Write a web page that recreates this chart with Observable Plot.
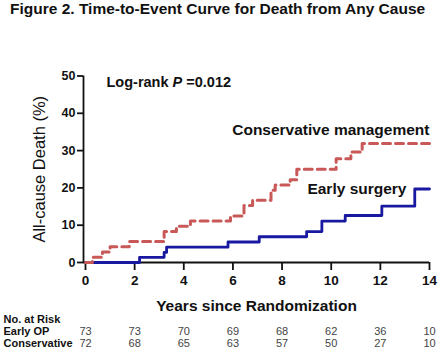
<!DOCTYPE html>
<html>
<head>
<meta charset="utf-8">
<script src="https://cdn.jsdelivr.net/npm/d3@7"></script>
<script src="https://cdn.jsdelivr.net/npm/@observablehq/plot@0.6"></script>
<style>
  html, body { margin: 0; padding: 0; background: white; }
  #title { height: 24px; line-height: 22px; padding-left: 10px; font: bold 15.5px "Liberation Sans", Arial, sans-serif; color: #111; white-space: nowrap; }
</style>
</head>
<body>
<div id="title">Figure 2. Time-to-Event Curve for Death from Any Cause</div>
<div id="chart"></div>
<script>
const FONT = '"Liberation Sans", Arial, sans-serif';

// Conservative management (red dashed) step curve
const consTime  = [0, 0.28, 0.69, 1.0, 1.78, 3.2, 3.7, 4.27, 5.9, 6.45, 6.8, 7.55, 7.72, 8.33, 8.6, 10.2, 10.8, 11.26, 14];
const consValue = [0, 1.4, 2.8, 4.2, 5.6, 8.3, 9.7, 11.1, 12.5, 15.3, 16.7, 19.4, 20.8, 22.2, 25.0, 27.8, 29.6, 31.9, 31.9];

// Early surgery (blue solid) step curve
const earlyTime  = [0, 2.2, 3.2, 3.3, 5.8, 7.07, 9.0, 9.62, 10.57, 12.06, 13.4, 14];
const earlyValue = [0, 1.4, 2.7, 4.1, 5.5, 6.9, 8.3, 11.1, 12.6, 15.1, 19.7, 19.7];

// Numbers at risk
const riskTimes = [0, 2, 4, 6, 8, 10, 12, 14];
const riskEarly = [73, 73, 70, 69, 68, 62, 36, 10];
const riskCons  = [72, 68, 65, 63, 57, 50, 27, 10];

const xTicks = [0, 2, 4, 6, 8, 10, 12, 14];
const yTicks = [0, 10, 20, 30, 40, 50];

const seriesNames = ["Conservative management", "Early surgery"];
const logRankParts = ["Log-rank ", "P", " =0.012"];
const rowLabels = ["No. at Risk", "Early OP", "Conservative"];
const xLabel = "Years since Randomization";
const yLabel = "All-cause Death (%)";

const RED = "#c95858";
const BLUE = "#1818a0";

const cons = consTime.map((t, i) => ({t, v: consValue[i]}));
const early = earlyTime.map((t, i) => ({t, v: earlyValue[i]}));
const logRank = logRankParts.join("");

const plot = Plot.plot({
  width: 440,
  height: 327,
  marginLeft: 83,
  insetLeft: 2,
  marginRight: 11,
  marginTop: 51.5,
  marginBottom: 89,
  x: {domain: [0, 14]},
  y: {domain: [0, 50]},
  style: {fontFamily: FONT, color: "#111", background: "white", overflow: "visible"},
  marks: [
    Plot.axisY({ticks: yTicks, tickSize: 6, tickPadding: 2, fontSize: 12.5, fontWeight: "bold", label: null, strokeWidth: 1.8}),
    Plot.axisX({ticks: xTicks, tickSize: 8, tickPadding: 5, fontSize: 13.5, fontWeight: "bold", label: null, strokeWidth: 1.8}),
    Plot.ruleX([0], {dx: -2, strokeWidth: 1.8, stroke: "#111"}),
    Plot.ruleY([0], {strokeWidth: 1.8, stroke: "#111"}),
    Plot.line(early, {x: "t", y: "v", curve: "step-after", stroke: BLUE, strokeWidth: 2.8}),
    Plot.line(cons, {x: "t", y: "v", curve: "step-after", stroke: RED, strokeWidth: 3, strokeDasharray: "8,5"}),
    Plot.text([logRank], {frameAnchor: "top-left", dx: 23, dy: 6.5, textAnchor: "start", lineAnchor: "middle", fontSize: 14.5, fontWeight: "bold", fill: "#111"}),
    Plot.text([seriesNames[0]], {frameAnchor: "top-right", dx: 0, dy: 54.5, textAnchor: "end", lineAnchor: "middle", fontSize: 15.5, fontWeight: "bold", fill: "#111"}),
    Plot.text([seriesNames[1]], {frameAnchor: "top-right", dx: -23, dy: 113.5, textAnchor: "end", lineAnchor: "middle", fontSize: 15.5, fontWeight: "bold", fill: "#111"}),
    Plot.text([xLabel], {frameAnchor: "bottom", dy: 44, lineAnchor: "middle", fontSize: 15.5, fontWeight: "bold", fill: "#111"}),
    Plot.text([yLabel], {frameAnchor: "left", dx: -44, rotate: -90, textAnchor: "middle", lineAnchor: "middle", fontSize: 16.5, fill: "#111"}),
    Plot.text([rowLabels[0]], {frameAnchor: "bottom-left", dx: -80, dy: 57, textAnchor: "start", lineAnchor: "middle", fontSize: 11, fontWeight: "bold", fill: "#111"}),
    Plot.text([rowLabels[1]], {frameAnchor: "bottom-left", dx: -80, dy: 69, textAnchor: "start", lineAnchor: "middle", fontSize: 11, fontWeight: "bold", fill: "#111"}),
    Plot.text([rowLabels[2]], {frameAnchor: "bottom-left", dx: -80, dy: 81, textAnchor: "start", lineAnchor: "middle", fontSize: 11, fontWeight: "bold", fill: "#111"}),
    Plot.text(riskTimes, {x: d => d, text: (d, i) => String(riskEarly[i]), frameAnchor: "bottom", dy: 69, lineAnchor: "middle", fontSize: 11, fill: "#444"}),
    Plot.text(riskTimes, {x: d => d, text: (d, i) => String(riskCons[i]), frameAnchor: "bottom", dy: 81, lineAnchor: "middle", fontSize: 11, fill: "#444"})
  ]
});

// italic P in the log-rank annotation
d3.select(plot).selectAll("text").each(function() {
  if (this.textContent === logRank) {
    const sel = d3.select(this);
    sel.text(null);
    sel.append("tspan").text(logRankParts[0]);
    sel.append("tspan").attr("font-style", "italic").text(logRankParts[1]);
    sel.append("tspan").text(logRankParts[2]);
  }
});

document.getElementById("chart").appendChild(plot);
</script>
</body>
</html>
